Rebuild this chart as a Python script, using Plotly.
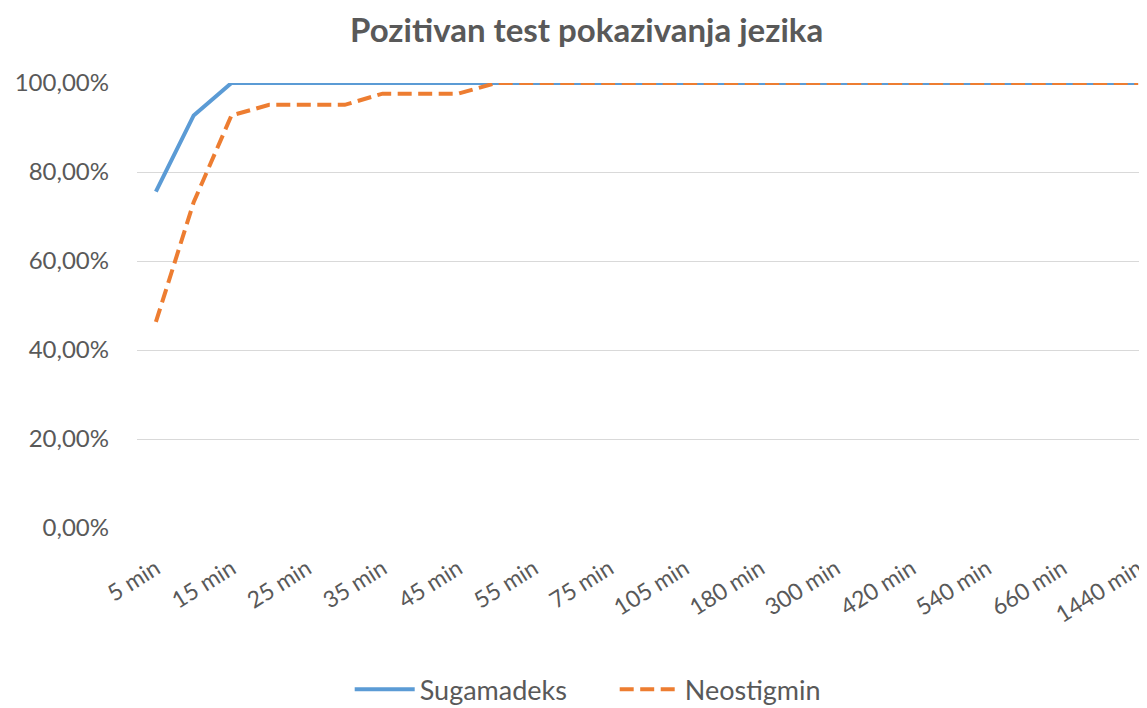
import plotly.graph_objects as go

categories = ["5 min", "10 min", "15 min", "20 min", "25 min", "30 min", "35 min", "40 min",
              "45 min", "50 min", "55 min", "65 min", "75 min", "90 min", "105 min", "120 min",
              "180 min", "240 min", "300 min", "360 min", "420 min", "480 min", "540 min",
              "600 min", "660 min", "720 min", "1440 min"]
sugamadeks = [0.756, 0.927] + [1.0] * 25
neostigmin = [0.463, 0.732, 0.927, 0.951, 0.951, 0.951, 0.976, 0.976, 0.976] + [1.0] * 18
tick_labels = categories[::2]

grey = "#595959"
font_family = "Lato, 'Open Sans', sans-serif"

fig = go.Figure()
fig.add_trace(go.Scatter(x=categories, y=sugamadeks, mode="lines", name="Sugamadeks",
                         line=dict(color="#5B9BD5", width=4)))
fig.add_trace(go.Scatter(x=categories, y=neostigmin, mode="lines", name="Neostigmin",
                         line=dict(color="#ED7D31", width=4, dash="14px,6.5px")))

fig.update_layout(
    width=1139, height=700,
    margin=dict(l=129, r=7, t=75, b=180),
    paper_bgcolor="white", plot_bgcolor="white",
    separators=", ",
    title=dict(text="<b>Pozitivan test pokazivanja jezika</b>", x=0.508, xref="container",
               xanchor="center", y=0.968, yref="container", yanchor="middle",
               font=dict(family=font_family, size=33, color=grey)),
    showlegend=True,
    legend=dict(orientation="h", xref="container", yref="container", x=0.300, y=0.026,
                xanchor="left", yanchor="middle",
                font=dict(family=font_family, size=27, color=grey),
                itemwidth=60, entrywidth=190, entrywidthmode="pixels"),
    font=dict(family=font_family, color=grey),
)
fig.update_xaxes(type="category", range=[-0.5, len(categories) - 0.95],
                 tickmode="array", tickvals=tick_labels, ticktext=tick_labels,
                 tickangle=-32, tickfont=dict(size=23, color=grey), automargin=False,
                 ticklabelstandoff=22,
                 showgrid=False, showline=False, ticks="", zeroline=False)
fig.update_yaxes(range=[0, 1.0], tickvals=[0, 0.2, 0.4, 0.6, 0.8, 1.0], tickformat=".2%",
                 tickfont=dict(size=24, color=grey), showgrid=True, gridcolor="#D9D9D9",
                 gridwidth=1, zeroline=False, showline=False, ticks="", ticklabelstandoff=27,
                 automargin=False)

fig.write_html("out.html")
